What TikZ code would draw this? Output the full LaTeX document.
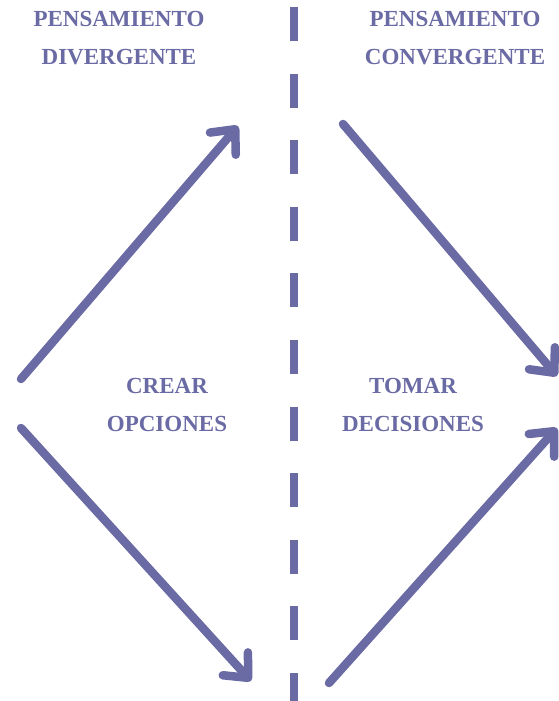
\documentclass[tikz,border=0pt]{standalone}
\usepackage{fontspec}
\setmainfont{Liberation Serif}
\usetikzlibrary{arrows.meta}
\definecolor{lila}{RGB}{106,106,164}

\begin{document}
\begin{tikzpicture}[x=1pt,y=-1pt,line width=8.5pt,line cap=round,
    flecha/.style={lila,-{Straight Barb[length=19pt,width=34pt,line cap=round,round]}},
    rotulo/.style={lila,font=\fontsize{23}{38}\selectfont\bfseries,align=center,anchor=base,inner sep=0pt}]
  \useasboundingbox (0,0) rectangle (558,701);

  \coordinate (sup) at (294,7);
  \coordinate (inf) at (294,712);
  \draw[lila,line width=8pt,line cap=butt,dash pattern=on 34pt off 32.6pt] (sup) -- (inf);

  \node[rotulo] (div) at (119,65) {PENSAMIENTO\\DIVERGENTE};
  \node[rotulo] (conv) at (455,65) {PENSAMIENTO\\CONVERGENTE};
  \node[rotulo] (crear) at (167,431) {CREAR\\OPCIONES};
  \node[rotulo] (tomar) at (413,431) {TOMAR\\DECISIONES};

  \coordinate (a1) at (21,379);
  \coordinate (b1) at (238,126);
  \coordinate (a2) at (21,428);
  \coordinate (b2) at (251,681);
  \coordinate (a3) at (343,124);
  \coordinate (b3) at (557,376);
  \coordinate (a4) at (329,683);
  \coordinate (b4) at (557,428);

  \path (a1) edge[flecha] (b1)
        (a2) edge[flecha] (b2)
        (a3) edge[flecha] (b3)
        (a4) edge[flecha] (b4);
\end{tikzpicture}
\end{document}
